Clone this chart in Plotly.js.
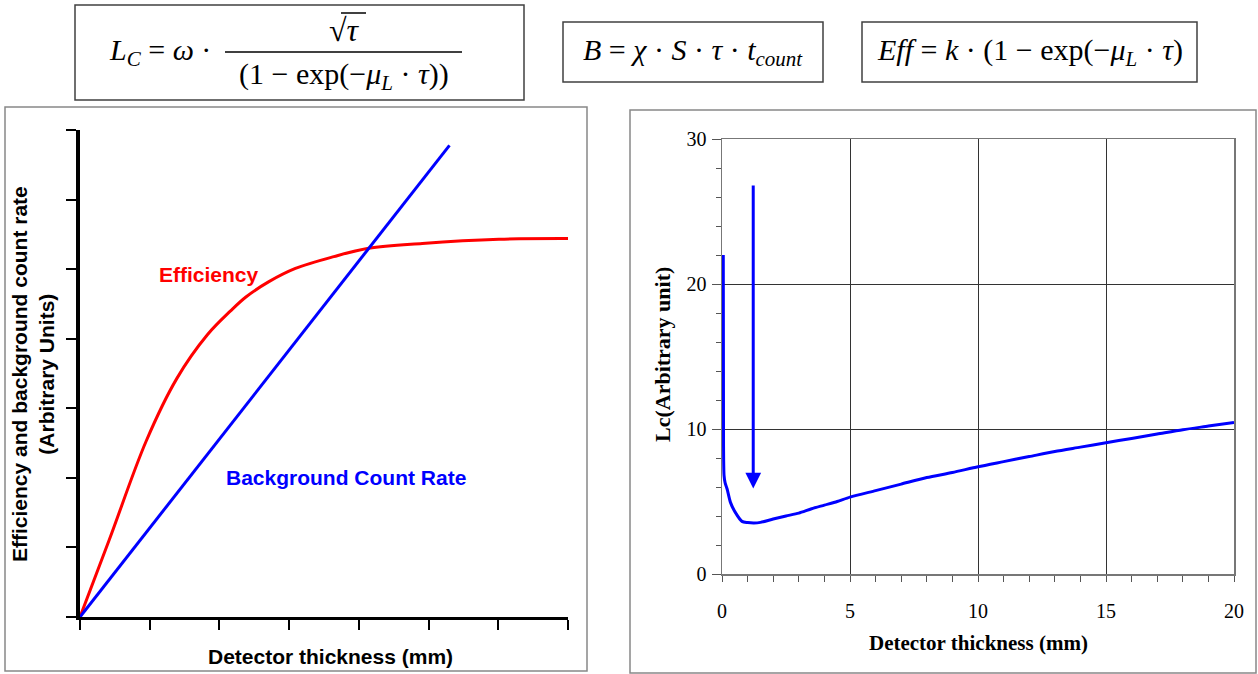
<!DOCTYPE html>
<html>
<head>
<meta charset="utf-8">
<script src="https://cdn.plot.ly/plotly-3.0.1.min.js"></script>
<style>
  body { margin: 0; background: #fff; }
  #chart { width: 1258px; height: 674px; }
</style>
</head>
<body>
<div id="chart"></div>
<script>
// left panel: arbitrary units, 7 tick steps on each axis
const effX = [0, 0.42, 0.95, 1.39, 1.83, 2.16, 2.38, 2.71, 3.09, 3.64, 4.14, 4.91, 6.01, 7.0];
const effY = [0, 1.11, 2.53, 3.43, 4.06, 4.40, 4.60, 4.82, 5.01, 5.18, 5.30, 5.37, 5.43, 5.44];
const bgX = [0, 5.3];
const bgY = [0, 6.78];

// right panel: Lc vs detector thickness (mm)
const lcX = [0.05, 0.06, 0.08, 0.12, 0.2, 0.33, 0.52, 0.78, 1.0, 1.25, 1.5, 2.0, 2.5, 3.0, 3.5, 4.0, 4.5,
             5, 6, 7, 8, 9, 10, 11, 12, 13, 14, 15, 16, 17, 18, 19, 20];
const lcY = [22.0, 8.8, 6.8, 6.3, 5.86, 4.94, 4.25, 3.63, 3.55, 3.52, 3.56, 3.79, 4.0, 4.2, 4.5, 4.75, 5.0,
             5.3, 5.75, 6.2, 6.65, 7.0, 7.4, 7.75, 8.1, 8.45, 8.75, 9.05, 9.35, 9.65, 9.95, 10.2, 10.45];
const arrowX = 1.22;
const arrowTop = 26.9;
const arrowTip = 5.9;

const W = 1258, H = 674;
// pixel -> paper helpers
const px = v => v / W;
const py = v => 1 - v / H;

const ARIAL = "Liberation Sans, Arial, sans-serif";
const TIMES = "Liberation Serif, Times New Roman, serif";

const data = [
  {x: effX, y: effY, xaxis: "x", yaxis: "y", mode: "lines",
   line: {color: "#ff0000", width: 3, shape: "spline", smoothing: 1}, hoverinfo: "skip"},
  {x: bgX, y: bgY, xaxis: "x", yaxis: "y", mode: "lines", line: {color: "#0000ff", width: 3}, hoverinfo: "skip"},
  {x: lcX, y: lcY, xaxis: "x2", yaxis: "y2", mode: "lines",
   line: {color: "#0000ff", width: 3, shape: "spline", smoothing: 0.7}, hoverinfo: "skip"}
];

const box = (x0, y0, x1, y1, color) => ({
  type: "rect", xref: "paper", yref: "paper",
  x0: px(x0), x1: px(x1), y0: py(y1), y1: py(y0),
  line: {color: color, width: 1.5}, fillcolor: "rgba(0,0,0,0)"
});
const hline = (x0, x1, y) => ({
  type: "line", xref: "paper", yref: "paper",
  x0: px(x0), x1: px(x1), y0: py(y), y1: py(y),
  line: {color: "#000", width: 1.5}
});
const formula = (text, x, y, size) => ({
  text: text, xref: "paper", yref: "paper", x: px(x), y: py(y),
  xanchor: "center", yanchor: "middle", showarrow: false,
  font: {family: TIMES, size: size || 30, color: "#000"}
});

const layout = {
  width: W, height: H,
  margin: {l: 0, r: 0, t: 0, b: 0},
  paper_bgcolor: "#fff", plot_bgcolor: "#fff",
  showlegend: false,
  xaxis: {
    domain: [px(80), px(568)], range: [0, 7], dtick: 1, tick0: 0,
    showgrid: false, zeroline: false, showticklabels: false,
    ticks: "outside", ticklen: 10, tickwidth: 2, tickcolor: "#000",
    showline: true, linewidth: 3, linecolor: "#000", fixedrange: true
  },
  yaxis: {
    domain: [py(617), py(130)], range: [0, 7], dtick: 1, tick0: 0,
    showgrid: false, zeroline: false, showticklabels: false,
    ticks: "outside", ticklen: 10, tickwidth: 2, tickcolor: "#000",
    showline: true, linewidth: 4, linecolor: "#000", fixedrange: true
  },
  xaxis2: {
    anchor: "y2", domain: [px(722), px(1234)], range: [0, 20], dtick: 5, tick0: 0,
    showgrid: true, gridcolor: "#333", gridwidth: 1, zeroline: false,
    ticks: "outside", ticklen: 6, tickcolor: "#555",
    minor: {dtick: 1, ticks: "outside", ticklen: 6, tickcolor: "#555", showgrid: false},
    showline: true, mirror: true, linecolor: "#777", linewidth: 1.5,
    tickfont: {family: TIMES, size: 20, color: "#000"}, ticklabelstandoff: 12, fixedrange: true
  },
  yaxis2: {
    anchor: "x2", domain: [py(574), py(139)], range: [0, 30], dtick: 10, tick0: 0,
    showgrid: true, gridcolor: "#333", gridwidth: 1, zeroline: false,
    ticks: "outside", ticklen: 9, tickcolor: "#555",
    minor: {dtick: 2, ticks: "outside", ticklen: 5, tickcolor: "#555", showgrid: false},
    showline: true, mirror: true, linecolor: "#777", linewidth: 1.5,
    tickfont: {family: TIMES, size: 20, color: "#000"}, ticklabelstandoff: 1, fixedrange: true
  },
  shapes: [
    // formula boxes
    box(75, 5, 524, 100, "#404040"),
    box(563, 22, 823, 82, "#404040"),
    box(862, 22, 1197, 82, "#404040"),
    // fraction bar + radical overline
    hline(225, 462, 52),
    hline(341, 366, 13),
    // panel frames
    box(5, 107, 587, 671, "#888"),
    box(630, 110, 1256, 673, "#888")
  ],
  annotations: [
    formula("<i>L</i><sub><i>C</i></sub> = <i>ω</i> ·", 160, 52),
    formula("√<i>τ</i>", 344, 30, 32),
    formula("(1 − exp(−<i>μ</i><sub><i>L</i></sub> · <i>τ</i>))", 344, 76),
    formula("<i>B</i> = <i>χ</i> · <i>S</i> · <i>τ</i> · <i>t</i><sub><i>count</i></sub>", 693, 52),
    formula("<i>Eff</i> = <i>k</i> · (1 − exp(−<i>μ</i><sub><i>L</i></sub> · <i>τ</i>)", 1030, 52),

    // left panel labels
    {text: "<b>Efficiency</b>", xref: "x", yref: "y", x: 1.85, y: 4.93, showarrow: false,
     font: {family: ARIAL, size: 21, color: "#ff0000"}},
    {text: "<b>Background Count Rate</b>", xref: "x", yref: "y", x: 3.81, y: 2.0, showarrow: false,
     font: {family: ARIAL, size: 21, color: "#0000ff"}},
    {text: "<b>Detector thickness (mm)</b>", xref: "paper", yref: "paper", x: px(330), y: py(656),
     xanchor: "center", yanchor: "middle", showarrow: false,
     font: {family: ARIAL, size: 21, color: "#000"}},
    {text: "<b>Efficiency and background count rate<br>(Arbitrary Units)</b>", xref: "paper", yref: "paper",
     x: px(33), y: py(374), xanchor: "center", yanchor: "middle", textangle: -90, showarrow: false,
     font: {family: ARIAL, size: 21, color: "#000"}},

    // right panel titles
    {text: "<b>Detector thickness (mm)</b>", xref: "paper", yref: "paper", x: px(978), y: py(643),
     xanchor: "center", yanchor: "middle", showarrow: false,
     font: {family: TIMES, size: 21, color: "#000"}},
    {text: "<b>Lc(Arbitrary unit)</b>", xref: "paper", yref: "paper", x: px(662), y: py(355),
     xanchor: "center", yanchor: "middle", textangle: -90, showarrow: false,
     font: {family: TIMES, size: 22, color: "#000"}},

    // arrow pointing at the minimum
    {text: "", xref: "x2", yref: "y2", x: arrowX, y: arrowTip, axref: "x2", ayref: "y2",
     ax: arrowX, ay: arrowTop, showarrow: true, arrowhead: 2, arrowsize: 1.05, arrowwidth: 3,
     arrowcolor: "#0000ff"}
  ]
};

Plotly.newPlot("chart", data, layout, {staticPlot: true, displayModeBar: false});
</script>
</body>
</html>
